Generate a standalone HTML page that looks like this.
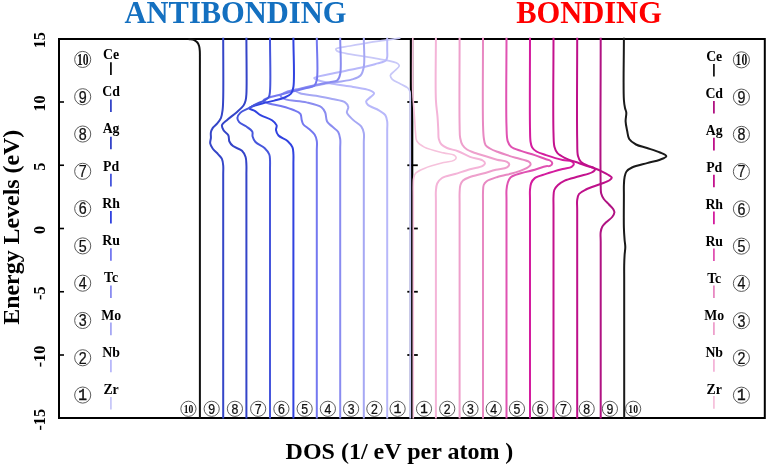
<!DOCTYPE html>
<html><head><meta charset="utf-8"><style>
html,body{margin:0;padding:0;background:#fff;}
body{width:767px;height:466px;overflow:hidden;}
svg{display:block;will-change:transform;}
text{font-family:"Liberation Serif",serif;}
.b{font-weight:bold;}
.cn{font-family:"Liberation Sans",sans-serif;fill:#111;stroke:#111;stroke-width:0.25px;}
.cm{font-family:"Liberation Mono",monospace;fill:#111;stroke:#111;stroke-width:0.5px;}
</style></head><body>
<svg width="767" height="466" viewBox="0 0 767 466">

<text x="235.5" y="22.5" font-size="30.5" text-anchor="middle" class="b" fill="#1470c0">ANTIBONDING</text>
<text x="589" y="22.5" font-size="30.5" text-anchor="middle" class="b" fill="#ff0000">BONDING</text>
<text transform="translate(18.8,227.2) rotate(-90)" x="0" y="0" font-size="23.9" text-anchor="middle" class="b" fill="#000">Energy Levels (eV)</text>
<text transform="translate(45,40.2) rotate(-90)" x="0" y="0" font-size="16.2" text-anchor="middle" class="b" fill="#000">15</text>
<text transform="translate(45,103.5) rotate(-90)" x="0" y="0" font-size="16.2" text-anchor="middle" class="b" fill="#000">10</text>
<text transform="translate(45,166.8) rotate(-90)" x="0" y="0" font-size="16.2" text-anchor="middle" class="b" fill="#000">5</text>
<text transform="translate(45,230.0) rotate(-90)" x="0" y="0" font-size="16.2" text-anchor="middle" class="b" fill="#000">0</text>
<text transform="translate(45,293.2) rotate(-90)" x="0" y="0" font-size="16.2" text-anchor="middle" class="b" fill="#000">-5</text>
<text transform="translate(45,356.5) rotate(-90)" x="0" y="0" font-size="16.2" text-anchor="middle" class="b" fill="#000">-10</text>
<text transform="translate(45,419.8) rotate(-90)" x="0" y="0" font-size="16.2" text-anchor="middle" class="b" fill="#000">-15</text>
<text x="399.5" y="458.8" font-size="24" text-anchor="middle" class="b" fill="#000">DOS (1/ eV per atom )</text>
<rect x="59" y="39" width="705.8" height="379" fill="none" stroke="#000" stroke-width="2"/>
<line x1="58" y1="102.00" x2="64" y2="102.00" stroke="#000" stroke-width="1.6"/>
<line x1="407.3" y1="102.00" x2="417.8" y2="102.00" stroke="#000" stroke-width="1.8"/>
<line x1="58" y1="165.25" x2="64" y2="165.25" stroke="#000" stroke-width="1.6"/>
<line x1="407.3" y1="165.25" x2="417.8" y2="165.25" stroke="#000" stroke-width="1.8"/>
<line x1="58" y1="228.50" x2="64" y2="228.50" stroke="#000" stroke-width="1.6"/>
<line x1="407.3" y1="228.50" x2="417.8" y2="228.50" stroke="#000" stroke-width="1.8"/>
<line x1="58" y1="291.75" x2="64" y2="291.75" stroke="#000" stroke-width="1.6"/>
<line x1="407.3" y1="291.75" x2="417.8" y2="291.75" stroke="#000" stroke-width="1.8"/>
<line x1="58" y1="355.00" x2="64" y2="355.00" stroke="#000" stroke-width="1.6"/>
<line x1="407.3" y1="355.00" x2="417.8" y2="355.00" stroke="#000" stroke-width="1.8"/>
<line x1="410.8" y1="38" x2="410.8" y2="419" stroke="#000" stroke-width="2"/>
<line x1="412.3" y1="38" x2="412.3" y2="419" stroke="#000" stroke-width="2"/>
<g fill="none" stroke-width="2" stroke-linejoin="round" stroke-linecap="butt">
<path d="M400.50,38.00 C395.00,38.80 389.40,39.62 384.00,40.40 C378.80,41.15 374.05,41.73 368.70,42.60 C362.77,43.56 355.78,44.88 350.00,46.00 C344.99,46.97 336.75,47.39 336.00,48.90 C335.70,49.51 336.28,50.40 337.00,51.00 C338.40,52.17 341.78,52.47 345.60,53.30 C352.99,54.90 369.02,56.83 378.50,58.80 C385.82,60.32 395.14,61.61 397.80,63.60 C398.79,64.35 399.30,65.10 399.20,66.00 C399.04,67.42 396.02,69.40 394.50,71.00 C393.09,72.49 390.64,73.81 390.40,75.30 C390.19,76.59 391.16,78.07 392.30,79.30 C393.96,81.09 397.84,82.51 400.50,84.00 C403.00,85.40 406.21,86.47 407.80,88.00 C408.91,89.07 409.49,90.21 409.90,91.50 C410.33,92.86 410.14,94.28 410.20,96.00 C410.28,98.28 410.20,99.40 410.20,104.00 C410.20,132.85 410.20,313.73 410.20,418.60" stroke="#c8c8f8" stroke-width="1.7"/>
<path d="M387.20,37.80 C387.20,41.87 387.20,46.49 387.20,50.00 C387.20,52.66 387.53,55.12 387.20,57.00 C386.97,58.33 386.77,59.44 386.00,60.30 C385.13,61.27 383.39,61.78 382.00,62.30 C380.62,62.82 379.34,62.97 377.70,63.40 C375.50,63.98 372.93,64.76 370.00,65.50 C366.16,66.47 361.83,67.46 356.60,68.60 C349.25,70.20 337.70,72.24 330.00,74.00 C324.03,75.36 314.38,76.61 314.20,78.00 C314.10,78.75 316.46,79.58 318.30,80.30 C321.50,81.56 327.07,82.68 332.20,83.70 C338.43,84.94 346.60,85.76 353.10,86.90 C358.83,87.91 365.48,88.58 369.20,90.10 C371.42,91.01 373.95,92.11 374.10,93.30 C374.24,94.37 372.10,95.59 370.90,96.80 C369.51,98.21 366.51,99.70 366.20,101.20 C365.96,102.38 366.71,103.66 367.80,104.80 C369.74,106.82 375.78,108.38 378.90,110.30 C381.41,111.84 383.92,113.12 385.30,115.10 C386.56,116.91 386.86,119.13 387.20,121.50 C387.61,124.33 387.20,125.64 387.20,131.00 C387.20,160.49 387.20,322.73 387.20,418.60" stroke="#b8b8fa"/>
<path d="M363.80,37.80 C363.80,47.53 365.06,60.26 363.80,67.00 C363.09,70.77 362.43,73.43 360.50,75.50 C358.57,77.57 355.90,78.26 352.20,79.40 C345.65,81.42 332.15,82.43 323.80,84.00 C317.16,85.25 311.14,86.57 306.00,87.80 C302.03,88.75 295.65,89.48 295.50,90.60 C295.40,91.38 297.95,92.47 300.00,93.20 C303.63,94.49 310.74,94.84 316.10,95.80 C321.48,96.77 327.15,97.83 332.20,99.00 C336.76,100.05 342.41,100.52 345.10,102.40 C346.84,103.62 348.00,105.32 348.30,107.00 C348.61,108.69 346.48,110.64 346.90,112.50 C347.45,114.92 350.77,117.62 353.10,119.90 C355.52,122.27 359.40,123.96 361.20,126.40 C362.68,128.41 363.33,130.52 363.80,133.00 C364.36,135.94 363.80,137.40 363.80,143.00 C363.80,172.40 363.80,326.73 363.80,418.60" stroke="#a6a8f4"/>
<path d="M340.20,37.80 C340.20,49.87 341.69,66.98 340.20,74.00 C339.55,77.06 339.04,78.93 337.40,80.30 C335.64,81.77 332.60,81.55 329.70,82.20 C325.96,83.04 321.38,83.82 316.80,84.80 C311.56,85.92 305.34,87.31 300.00,88.60 C295.11,89.78 289.50,90.65 286.00,92.20 C283.64,93.24 280.54,94.59 280.50,95.80 C280.46,96.92 282.77,98.27 285.00,99.20 C289.37,101.03 300.03,100.87 306.50,102.40 C312.01,103.70 318.37,105.00 321.50,107.30 C323.49,108.76 324.29,110.42 325.20,112.50 C326.30,115.00 325.78,119.07 327.10,121.50 C328.26,123.65 330.41,124.90 332.20,126.60 C334.10,128.40 336.87,129.86 338.20,132.00 C339.47,134.03 339.84,136.43 340.20,139.00 C340.62,142.01 340.20,143.41 340.20,149.00 C340.20,178.03 340.20,328.73 340.20,418.60" stroke="#8a8cf0"/>
<path d="M316.80,37.80 C316.80,51.87 318.41,72.48 316.80,80.00 C316.18,82.92 315.74,84.47 314.20,85.80 C312.48,87.29 309.40,87.23 306.50,88.00 C302.76,89.00 297.89,90.12 293.60,91.20 C289.32,92.28 285.02,93.39 280.80,94.50 C276.66,95.59 271.65,96.61 268.50,97.80 C266.41,98.59 263.57,99.40 263.50,100.30 C263.44,101.09 265.35,102.05 267.00,102.80 C270.00,104.15 276.32,104.78 280.80,106.00 C285.14,107.19 289.97,108.47 293.50,110.00 C296.22,111.18 299.06,112.07 300.40,113.90 C301.59,115.52 301.18,118.17 301.70,120.00 C302.14,121.55 302.26,122.86 303.20,124.20 C304.47,126.00 307.46,127.54 309.40,129.30 C311.25,130.98 313.36,132.51 314.60,134.50 C315.80,136.42 316.40,138.56 316.80,141.00 C317.28,143.94 316.80,145.41 316.80,151.00 C316.80,179.90 316.80,329.40 316.80,418.60" stroke="#7478f0"/>
<path d="M293.40,37.80 C293.40,54.20 294.83,78.32 293.40,87.00 C292.87,90.24 292.58,91.77 291.20,93.50 C289.73,95.33 287.12,96.38 284.60,97.50 C281.62,98.83 277.83,99.66 274.30,100.60 C270.64,101.57 266.73,102.21 263.00,103.20 C259.29,104.18 254.35,105.37 252.00,106.50 C250.77,107.09 249.35,107.69 249.40,108.30 C249.46,109.14 252.94,109.83 254.70,110.90 C256.64,112.08 258.15,113.83 260.50,115.20 C263.60,117.01 269.17,118.27 272.00,120.30 C274.08,121.79 276.02,123.50 276.60,125.30 C277.09,126.84 275.74,128.57 276.00,130.20 C276.29,131.97 277.06,133.91 278.50,135.50 C280.42,137.62 285.09,138.75 287.50,140.90 C289.63,142.80 291.53,145.09 292.50,147.40 C293.37,149.48 293.23,151.57 293.40,154.00 C293.60,156.98 293.40,158.44 293.40,164.00 C293.40,192.07 293.40,333.73 293.40,418.60" stroke="#3042e0"/>
<path d="M270.00,37.80 C270.00,55.53 270.88,82.11 270.00,91.00 C269.70,94.02 269.78,95.43 268.80,97.00 C267.88,98.48 266.25,99.25 264.50,100.30 C262.21,101.68 258.72,102.83 256.00,104.20 C253.40,105.51 251.04,106.92 248.50,108.30 C245.88,109.72 242.40,110.79 240.50,112.60 C238.95,114.08 237.53,116.11 237.40,117.80 C237.29,119.30 238.10,120.91 239.20,122.20 C240.63,123.86 243.83,124.75 246.00,126.30 C248.20,127.88 251.31,129.64 252.30,131.60 C253.06,133.12 252.14,134.87 252.60,136.50 C253.11,138.34 253.97,140.30 255.50,142.00 C257.52,144.24 262.12,145.73 264.50,148.00 C266.56,149.96 268.42,152.31 269.30,154.50 C270.03,156.32 269.87,157.89 270.00,160.00 C270.18,162.83 270.00,164.45 270.00,170.00 C270.00,197.69 270.00,335.73 270.00,418.60" stroke="#4656dc"/>
<path d="M246.40,37.80 C246.40,56.53 246.98,84.50 246.40,94.00 C246.20,97.24 246.13,98.51 245.60,100.50 C245.12,102.31 244.64,103.82 243.50,105.50 C241.96,107.77 239.05,110.13 236.50,112.40 C233.72,114.87 229.99,117.38 227.40,119.70 C225.31,121.58 222.49,123.13 222.00,125.10 C221.58,126.81 222.71,128.96 223.70,130.60 C224.75,132.35 227.35,133.37 228.30,135.20 C229.24,137.01 228.58,139.65 229.40,141.50 C230.18,143.26 231.33,144.73 233.00,146.10 C235.19,147.91 239.86,148.66 242.00,150.70 C243.82,152.43 244.86,154.69 245.60,157.00 C246.38,159.43 246.26,162.18 246.40,165.00 C246.56,168.14 246.40,169.46 246.40,175.00 C246.40,202.36 246.40,337.40 246.40,418.60" stroke="#3444c8"/>
<path d="M223.20,37.80 C223.20,57.87 223.51,85.61 223.20,98.00 C223.06,103.53 223.05,106.44 222.60,110.00 C222.23,112.89 221.96,115.51 221.00,117.80 C220.12,119.89 218.68,121.61 217.30,123.30 C215.94,124.97 213.89,126.27 212.80,127.90 C211.85,129.32 211.23,130.79 210.90,132.40 C210.55,134.11 211.02,136.07 210.90,137.90 C210.78,139.74 209.91,141.62 210.20,143.40 C210.50,145.25 211.60,147.09 212.80,148.80 C214.17,150.74 216.61,152.51 218.20,154.30 C219.59,155.87 221.07,157.11 221.90,158.90 C222.79,160.81 222.96,163.09 223.20,165.50 C223.48,168.37 223.20,169.71 223.20,175.00 C223.20,201.78 223.20,337.40 223.20,418.60" stroke="#3546c8"/>
<path d="M188.50,39.00 C190.40,39.37 192.64,39.41 194.20,40.10 C195.50,40.68 196.58,41.51 197.40,42.50 C198.21,43.48 198.70,44.69 199.10,46.00 C199.55,47.49 199.66,49.19 199.80,51.00 C199.96,53.13 199.88,55.35 199.90,58.00 C199.92,61.46 199.90,63.25 199.90,70.00 C199.90,106.37 199.90,302.40 199.90,418.60" stroke="#111111"/>
<path d="M412.80,37.80 C412.80,55.87 412.42,79.66 412.80,92.00 C413.00,98.41 413.38,101.84 413.70,106.60 C414.01,111.16 414.38,115.52 414.70,120.00 C415.02,124.52 415.16,129.76 415.60,133.60 C415.92,136.45 415.56,138.85 416.80,141.00 C418.21,143.44 421.00,145.35 424.30,147.10 C429.07,149.63 438.14,151.53 443.60,152.90 C447.54,153.89 451.80,153.76 453.90,155.00 C455.12,155.72 456.20,156.80 456.20,157.70 C456.20,158.60 455.12,159.67 453.90,160.40 C451.80,161.65 447.54,161.59 443.60,162.60 C438.14,164.00 429.38,166.26 424.30,168.40 C420.73,169.90 417.33,171.24 415.60,173.20 C414.36,174.61 414.09,176.21 413.70,178.00 C413.24,180.08 413.37,182.46 413.30,185.00 C413.21,188.04 413.30,189.50 413.30,195.00 C413.30,221.02 413.30,344.07 413.30,418.60" stroke="#f6c2dc" stroke-width="1.6"/>
<path d="M435.90,37.80 C435.90,58.53 435.22,85.91 435.90,100.00 C436.25,107.27 437.09,111.27 437.50,116.50 C437.87,121.22 438.07,125.95 438.30,130.00 C438.49,133.30 438.13,136.43 438.80,139.00 C439.36,141.12 440.17,143.01 441.50,144.50 C442.87,146.03 444.77,146.99 447.00,148.00 C449.96,149.34 454.31,149.80 458.00,151.20 C461.97,152.71 465.88,155.35 470.00,156.90 C474.11,158.45 480.28,158.95 482.70,160.50 C483.95,161.31 485.00,162.30 485.00,163.20 C485.00,164.10 483.96,165.11 482.70,165.90 C480.28,167.42 474.39,167.93 470.00,169.20 C465.19,170.59 459.83,172.49 455.00,174.00 C450.52,175.41 445.09,175.99 442.00,178.00 C439.73,179.47 438.22,181.36 437.20,183.50 C436.16,185.68 436.13,188.31 435.90,191.00 C435.63,194.08 435.90,195.51 435.90,201.00 C435.90,226.61 435.90,346.07 435.90,418.60" stroke="#f4b4d8"/>
<path d="M459.60,37.80 C459.60,66.87 459.23,108.81 459.60,125.00 C459.74,131.25 459.53,134.37 460.20,138.00 C460.70,140.73 461.29,143.04 462.50,145.00 C463.62,146.82 465.27,148.30 467.00,149.50 C468.76,150.72 470.63,151.29 473.00,152.20 C476.28,153.45 481.00,154.73 485.00,156.00 C489.00,157.27 493.16,158.79 497.00,159.80 C500.46,160.71 504.95,160.68 507.00,161.90 C508.21,162.62 509.30,163.70 509.30,164.60 C509.30,165.50 508.23,166.56 507.00,167.30 C504.81,168.63 499.81,168.83 496.00,169.80 C491.83,170.87 487.34,172.30 483.00,173.50 C478.67,174.70 473.61,175.63 470.00,177.00 C467.25,178.05 464.63,178.96 463.00,180.50 C461.67,181.75 460.98,183.21 460.40,185.00 C459.68,187.22 459.74,190.18 459.60,193.00 C459.44,196.14 459.60,197.51 459.60,203.00 C459.60,228.47 459.60,346.73 459.60,418.60" stroke="#eea0cc"/>
<path d="M483.00,37.80 C483.00,66.53 482.53,107.50 483.00,124.00 C483.19,130.66 483.23,134.16 483.80,138.00 C484.21,140.76 484.34,143.21 485.50,145.00 C486.53,146.59 488.24,147.44 490.00,148.50 C492.10,149.76 494.35,150.62 497.40,151.80 C502.09,153.61 510.05,156.11 515.60,157.80 C520.22,159.21 525.97,159.81 528.40,161.40 C529.67,162.23 530.70,163.27 530.70,164.20 C530.70,165.13 529.64,166.07 528.40,167.00 C525.96,168.82 520.31,170.82 515.60,172.40 C510.13,174.23 502.65,175.27 497.40,177.00 C493.22,178.38 488.71,179.74 486.40,181.50 C484.99,182.57 484.29,183.49 483.70,185.00 C482.90,187.04 483.12,190.18 483.00,193.00 C482.86,196.14 483.00,197.51 483.00,203.00 C483.00,228.47 483.00,346.73 483.00,418.60" stroke="#e888c2"/>
<path d="M506.50,37.80 C506.50,67.20 505.82,108.80 506.50,126.00 C506.78,133.13 506.50,137.39 507.70,141.10 C508.49,143.54 509.34,145.17 511.10,146.70 C513.35,148.65 517.31,149.59 520.90,150.90 C525.09,152.43 530.44,153.63 534.80,155.10 C538.76,156.44 543.19,158.35 546.00,159.30 C547.66,159.86 548.93,159.80 550.00,160.50 C550.99,161.15 552.30,162.30 552.30,163.20 C552.30,164.10 551.00,165.39 550.00,165.90 C548.93,166.44 547.65,165.89 546.00,166.20 C543.18,166.74 538.75,168.59 534.80,169.70 C530.43,170.93 525.15,171.81 520.90,173.20 C517.14,174.43 512.70,175.37 510.50,177.40 C508.86,178.92 508.36,180.98 507.70,183.00 C506.99,185.16 506.72,187.45 506.50,190.00 C506.24,193.03 506.50,194.51 506.50,200.00 C506.50,225.68 506.50,345.73 506.50,418.60" stroke="#e052b2"/>
<path d="M530.00,37.80 C530.00,67.87 529.64,111.01 530.00,128.00 C530.14,134.70 530.01,138.43 530.60,142.00 C530.98,144.28 531.23,145.92 532.20,147.50 C533.18,149.10 534.65,150.35 536.50,151.50 C538.94,153.01 542.36,153.88 546.00,155.10 C550.76,156.70 557.97,158.94 562.70,160.00 C566.10,160.76 569.71,160.34 571.60,161.40 C572.79,162.07 573.90,163.20 573.90,164.10 C573.90,165.00 572.78,166.07 571.60,166.80 C569.70,167.97 566.12,168.08 562.70,169.00 C557.99,170.27 550.99,172.24 546.00,173.90 C541.87,175.28 537.34,176.18 534.80,178.10 C532.99,179.47 532.00,181.11 531.20,183.00 C530.33,185.04 530.22,187.45 530.00,190.00 C529.74,193.03 530.00,194.51 530.00,200.00 C530.00,225.68 530.00,345.73 530.00,418.60" stroke="#d41c9e"/>
<path d="M553.50,37.80 C553.50,69.53 552.87,115.41 553.50,133.00 C553.74,139.75 553.52,143.34 554.50,147.00 C555.18,149.56 555.95,151.46 557.50,153.20 C559.22,155.14 561.79,156.35 564.70,157.80 C568.61,159.75 574.86,161.62 579.20,163.20 C582.72,164.48 586.27,165.90 588.80,166.60 C590.40,167.04 591.73,166.83 592.80,167.40 C593.73,167.90 595.02,168.83 595.00,169.60 C594.97,170.51 593.28,171.62 591.70,172.50 C588.97,174.02 583.52,175.00 579.20,176.30 C574.55,177.70 568.51,178.83 564.70,180.60 C561.93,181.89 559.79,183.31 558.00,185.00 C556.42,186.49 555.06,188.08 554.30,190.00 C553.49,192.04 553.64,194.45 553.50,197.00 C553.33,200.03 553.50,201.52 553.50,207.00 C553.50,232.19 553.50,348.07 553.50,418.60" stroke="#c4128e"/>
<path d="M577.20,37.80 C577.20,71.87 576.72,120.69 577.20,140.00 C577.39,147.65 576.96,152.03 578.00,156.00 C578.67,158.57 579.35,160.35 581.00,162.00 C583.02,164.02 586.85,165.08 590.00,166.50 C593.36,168.02 597.26,169.23 600.60,170.80 C603.74,172.28 607.56,174.19 609.50,175.60 C610.59,176.39 611.78,177.04 611.80,177.80 C611.82,178.57 610.63,179.42 609.50,180.20 C607.58,181.53 603.95,182.66 600.60,184.00 C596.35,185.71 589.90,187.54 586.00,189.50 C583.15,190.93 580.45,192.07 579.00,194.00 C577.74,195.68 577.53,197.72 577.20,200.00 C576.78,202.88 577.20,204.53 577.20,210.00 C577.20,234.98 577.20,349.07 577.20,418.60" stroke="#be108a"/>
<path d="M600.70,37.80 C600.70,87.20 600.10,167.86 600.70,186.00 C600.84,190.09 600.61,191.24 601.20,193.50 C601.73,195.53 602.61,197.26 603.80,199.00 C605.13,200.94 607.36,202.72 609.00,204.50 C610.51,206.14 612.40,207.77 613.30,209.30 C613.95,210.41 614.47,211.36 614.40,212.50 C614.31,213.89 613.30,215.57 612.20,217.00 C610.85,218.77 608.20,220.32 606.50,222.00 C604.97,223.52 603.37,224.89 602.40,226.60 C601.47,228.24 601.02,229.90 600.70,232.00 C600.27,234.80 600.70,236.61 600.70,242.00 C600.70,264.63 600.70,359.73 600.70,418.60" stroke="#b01282"/>
<path d="M623.90,37.80 C623.90,58.53 623.15,89.07 623.90,100.00 C624.17,103.94 624.53,105.70 625.00,108.00 C625.37,109.79 626.13,110.88 626.30,112.70 C626.53,115.14 625.47,118.44 625.60,121.40 C625.73,124.53 626.57,127.96 627.20,131.00 C627.78,133.80 627.78,136.77 629.20,139.00 C630.66,141.30 633.30,143.05 636.00,144.50 C639.10,146.17 643.19,146.73 647.00,148.00 C651.16,149.38 656.51,150.89 660.00,152.50 C662.55,153.67 666.31,155.00 666.30,156.20 C666.29,157.40 662.55,158.67 660.00,159.70 C656.53,161.09 651.56,161.86 647.10,163.10 C642.26,164.44 635.68,165.69 632.00,167.50 C629.58,168.69 627.74,169.83 626.50,171.50 C625.36,173.05 625.03,174.97 624.60,177.00 C624.09,179.39 624.02,182.18 623.90,185.00 C623.76,188.14 623.90,190.70 623.90,195.00 C623.90,202.81 623.66,219.73 623.90,228.00 C624.05,232.99 624.33,236.54 624.60,240.00 C624.81,242.65 625.29,244.59 625.30,247.00 C625.32,249.58 624.78,252.18 624.60,255.00 C624.40,258.15 624.27,261.33 624.20,265.00 C624.11,269.49 624.20,272.48 624.20,280.00 C624.20,302.87 624.20,372.40 624.20,418.60" stroke="#1a1a1a"/>
</g>
<circle cx="82.70" cy="59.45" r="8.05" fill="none" stroke="#4a4a4a" stroke-width="0.90"/><text x="82.70" y="64.56" font-size="16.50" text-anchor="middle" textLength="11.60" lengthAdjust="spacingAndGlyphs" class="b" fill="#111">10</text>
<circle cx="741.40" cy="59.85" r="8.05" fill="none" stroke="#4a4a4a" stroke-width="0.90"/><text x="741.40" y="64.97" font-size="16.50" text-anchor="middle" textLength="11.60" lengthAdjust="spacingAndGlyphs" class="b" fill="#111">10</text>
<text x="111.1" y="58.90" font-size="13.8" text-anchor="middle" class="b" fill="#000">Ce</text>
<text x="714.2" y="61.20" font-size="13.8" text-anchor="middle" class="b" fill="#000">Ce</text>
<line x1="110.9" y1="62.30" x2="110.9" y2="74.90" stroke="#111111" stroke-width="1.8"/>
<line x1="713.9" y1="64.00" x2="713.9" y2="76.60" stroke="#1a1a1a" stroke-width="1.8"/>
<circle cx="82.70" cy="96.74" r="8.05" fill="none" stroke="#4a4a4a" stroke-width="0.90"/><text transform="translate(82.70,102.58) scale(0.88,1)" x="0" y="0" font-size="16.22" text-anchor="middle" class="cn">9</text>
<circle cx="741.40" cy="97.11" r="8.05" fill="none" stroke="#4a4a4a" stroke-width="0.90"/><text transform="translate(741.40,102.95) scale(0.88,1)" x="0" y="0" font-size="16.22" text-anchor="middle" class="cn">9</text>
<text x="111.1" y="96.14" font-size="13.8" text-anchor="middle" class="b" fill="#000">Cd</text>
<text x="714.2" y="98.21" font-size="13.8" text-anchor="middle" class="b" fill="#000">Cd</text>
<line x1="110.9" y1="99.48" x2="110.9" y2="112.08" stroke="#3546c8" stroke-width="1.8"/>
<line x1="713.9" y1="100.90" x2="713.9" y2="113.50" stroke="#b01282" stroke-width="1.8"/>
<circle cx="82.70" cy="134.03" r="8.05" fill="none" stroke="#4a4a4a" stroke-width="0.90"/><text transform="translate(82.70,139.87) scale(0.88,1)" x="0" y="0" font-size="16.22" text-anchor="middle" class="cn">8</text>
<circle cx="741.40" cy="134.37" r="8.05" fill="none" stroke="#4a4a4a" stroke-width="0.90"/><text transform="translate(741.40,140.21) scale(0.88,1)" x="0" y="0" font-size="16.22" text-anchor="middle" class="cn">8</text>
<text x="111.1" y="133.38" font-size="13.8" text-anchor="middle" class="b" fill="#000">Ag</text>
<text x="714.2" y="135.22" font-size="13.8" text-anchor="middle" class="b" fill="#000">Ag</text>
<line x1="110.9" y1="136.66" x2="110.9" y2="149.26" stroke="#3444c8" stroke-width="1.8"/>
<line x1="713.9" y1="137.80" x2="713.9" y2="150.40" stroke="#be108a" stroke-width="1.8"/>
<circle cx="82.70" cy="171.32" r="8.05" fill="none" stroke="#4a4a4a" stroke-width="0.90"/><text transform="translate(82.70,177.16) scale(0.88,1)" x="0" y="0" font-size="16.22" text-anchor="middle" class="cn">7</text>
<circle cx="741.40" cy="171.63" r="8.05" fill="none" stroke="#4a4a4a" stroke-width="0.90"/><text transform="translate(741.40,177.47) scale(0.88,1)" x="0" y="0" font-size="16.22" text-anchor="middle" class="cn">7</text>
<text x="111.1" y="170.62" font-size="13.8" text-anchor="middle" class="b" fill="#000">Pd</text>
<text x="714.2" y="172.23" font-size="13.8" text-anchor="middle" class="b" fill="#000">Pd</text>
<line x1="110.9" y1="173.84" x2="110.9" y2="186.44" stroke="#4656dc" stroke-width="1.8"/>
<line x1="713.9" y1="174.70" x2="713.9" y2="187.30" stroke="#c4128e" stroke-width="1.8"/>
<circle cx="82.70" cy="208.61" r="8.05" fill="none" stroke="#4a4a4a" stroke-width="0.90"/><text transform="translate(82.70,214.45) scale(0.88,1)" x="0" y="0" font-size="16.22" text-anchor="middle" class="cn">6</text>
<circle cx="741.40" cy="208.89" r="8.05" fill="none" stroke="#4a4a4a" stroke-width="0.90"/><text transform="translate(741.40,214.73) scale(0.88,1)" x="0" y="0" font-size="16.22" text-anchor="middle" class="cn">6</text>
<text x="111.1" y="207.86" font-size="13.8" text-anchor="middle" class="b" fill="#000">Rh</text>
<text x="714.2" y="209.24" font-size="13.8" text-anchor="middle" class="b" fill="#000">Rh</text>
<line x1="110.9" y1="211.02" x2="110.9" y2="223.62" stroke="#3042e0" stroke-width="1.8"/>
<line x1="713.9" y1="211.60" x2="713.9" y2="224.20" stroke="#d41c9e" stroke-width="1.8"/>
<circle cx="82.70" cy="245.90" r="8.05" fill="none" stroke="#4a4a4a" stroke-width="0.90"/><text transform="translate(82.70,251.74) scale(0.88,1)" x="0" y="0" font-size="16.22" text-anchor="middle" class="cn">5</text>
<circle cx="741.40" cy="246.15" r="8.05" fill="none" stroke="#4a4a4a" stroke-width="0.90"/><text transform="translate(741.40,251.99) scale(0.88,1)" x="0" y="0" font-size="16.22" text-anchor="middle" class="cn">5</text>
<text x="111.1" y="245.10" font-size="13.8" text-anchor="middle" class="b" fill="#000">Ru</text>
<text x="714.2" y="246.25" font-size="13.8" text-anchor="middle" class="b" fill="#000">Ru</text>
<line x1="110.9" y1="248.20" x2="110.9" y2="260.80" stroke="#7478f0" stroke-width="1.8"/>
<line x1="713.9" y1="248.50" x2="713.9" y2="261.10" stroke="#e052b2" stroke-width="1.8"/>
<circle cx="82.70" cy="283.19" r="8.05" fill="none" stroke="#4a4a4a" stroke-width="0.90"/><text transform="translate(82.70,289.03) scale(0.88,1)" x="0" y="0" font-size="16.22" text-anchor="middle" class="cn">4</text>
<circle cx="741.40" cy="283.41" r="8.05" fill="none" stroke="#4a4a4a" stroke-width="0.90"/><text transform="translate(741.40,289.25) scale(0.88,1)" x="0" y="0" font-size="16.22" text-anchor="middle" class="cn">4</text>
<text x="111.1" y="282.34" font-size="13.8" text-anchor="middle" class="b" fill="#000">Tc</text>
<text x="714.2" y="283.26" font-size="13.8" text-anchor="middle" class="b" fill="#000">Tc</text>
<line x1="110.9" y1="285.38" x2="110.9" y2="297.98" stroke="#8a8cf0" stroke-width="1.8"/>
<line x1="713.9" y1="285.40" x2="713.9" y2="298.00" stroke="#e888c2" stroke-width="1.8"/>
<circle cx="82.70" cy="320.48" r="8.05" fill="none" stroke="#4a4a4a" stroke-width="0.90"/><text transform="translate(82.70,326.32) scale(0.88,1)" x="0" y="0" font-size="16.22" text-anchor="middle" class="cn">3</text>
<circle cx="741.40" cy="320.67" r="8.05" fill="none" stroke="#4a4a4a" stroke-width="0.90"/><text transform="translate(741.40,326.51) scale(0.88,1)" x="0" y="0" font-size="16.22" text-anchor="middle" class="cn">3</text>
<text x="111.1" y="319.58" font-size="13.8" text-anchor="middle" class="b" fill="#000">Mo</text>
<text x="714.2" y="320.27" font-size="13.8" text-anchor="middle" class="b" fill="#000">Mo</text>
<line x1="110.9" y1="322.56" x2="110.9" y2="335.16" stroke="#a6a8f4" stroke-width="1.8"/>
<line x1="713.9" y1="322.30" x2="713.9" y2="334.90" stroke="#eea0cc" stroke-width="1.8"/>
<circle cx="82.70" cy="357.77" r="8.05" fill="none" stroke="#4a4a4a" stroke-width="0.90"/><text transform="translate(82.70,363.61) scale(0.88,1)" x="0" y="0" font-size="16.22" text-anchor="middle" class="cn">2</text>
<circle cx="741.40" cy="357.93" r="8.05" fill="none" stroke="#4a4a4a" stroke-width="0.90"/><text transform="translate(741.40,363.77) scale(0.88,1)" x="0" y="0" font-size="16.22" text-anchor="middle" class="cn">2</text>
<text x="111.1" y="356.82" font-size="13.8" text-anchor="middle" class="b" fill="#000">Nb</text>
<text x="714.2" y="357.28" font-size="13.8" text-anchor="middle" class="b" fill="#000">Nb</text>
<line x1="110.9" y1="359.74" x2="110.9" y2="372.34" stroke="#b8b8fa" stroke-width="1.8"/>
<line x1="713.9" y1="359.20" x2="713.9" y2="371.80" stroke="#f4b4d8" stroke-width="1.8"/>
<circle cx="82.70" cy="395.06" r="8.05" fill="none" stroke="#4a4a4a" stroke-width="0.90"/><text transform="translate(82.70,400.19) scale(0.92,1)" x="0" y="0" font-size="15.76" text-anchor="middle" class="cm">1</text>
<circle cx="741.40" cy="395.19" r="8.05" fill="none" stroke="#4a4a4a" stroke-width="0.90"/><text transform="translate(741.40,400.32) scale(0.92,1)" x="0" y="0" font-size="15.76" text-anchor="middle" class="cm">1</text>
<text x="111.1" y="394.06" font-size="13.8" text-anchor="middle" class="b" fill="#000">Zr</text>
<text x="714.2" y="394.29" font-size="13.8" text-anchor="middle" class="b" fill="#000">Zr</text>
<line x1="110.9" y1="396.92" x2="110.9" y2="409.52" stroke="#c8c8f8" stroke-width="1.8"/>
<line x1="713.9" y1="396.10" x2="713.9" y2="408.70" stroke="#f6c2dc" stroke-width="1.8"/>
<circle cx="397.60" cy="408.80" r="7.60" fill="none" stroke="#4a4a4a" stroke-width="0.90"/><text transform="translate(397.60,413.22) scale(0.92,1)" x="0" y="0" font-size="13.60" text-anchor="middle" class="cm">1</text>
<circle cx="424.00" cy="408.80" r="7.60" fill="none" stroke="#4a4a4a" stroke-width="0.90"/><text transform="translate(424.00,413.22) scale(0.92,1)" x="0" y="0" font-size="13.60" text-anchor="middle" class="cm">1</text>
<circle cx="374.36" cy="408.80" r="7.60" fill="none" stroke="#4a4a4a" stroke-width="0.90"/><text transform="translate(374.36,413.84) scale(0.88,1)" x="0" y="0" font-size="13.99" text-anchor="middle" class="cn">2</text>
<circle cx="447.24" cy="408.80" r="7.60" fill="none" stroke="#4a4a4a" stroke-width="0.90"/><text transform="translate(447.24,413.84) scale(0.88,1)" x="0" y="0" font-size="13.99" text-anchor="middle" class="cn">2</text>
<circle cx="351.12" cy="408.80" r="7.60" fill="none" stroke="#4a4a4a" stroke-width="0.90"/><text transform="translate(351.12,413.84) scale(0.88,1)" x="0" y="0" font-size="13.99" text-anchor="middle" class="cn">3</text>
<circle cx="470.48" cy="408.80" r="7.60" fill="none" stroke="#4a4a4a" stroke-width="0.90"/><text transform="translate(470.48,413.84) scale(0.88,1)" x="0" y="0" font-size="13.99" text-anchor="middle" class="cn">3</text>
<circle cx="327.88" cy="408.80" r="7.60" fill="none" stroke="#4a4a4a" stroke-width="0.90"/><text transform="translate(327.88,413.84) scale(0.88,1)" x="0" y="0" font-size="13.99" text-anchor="middle" class="cn">4</text>
<circle cx="493.72" cy="408.80" r="7.60" fill="none" stroke="#4a4a4a" stroke-width="0.90"/><text transform="translate(493.72,413.84) scale(0.88,1)" x="0" y="0" font-size="13.99" text-anchor="middle" class="cn">4</text>
<circle cx="304.64" cy="408.80" r="7.60" fill="none" stroke="#4a4a4a" stroke-width="0.90"/><text transform="translate(304.64,413.84) scale(0.88,1)" x="0" y="0" font-size="13.99" text-anchor="middle" class="cn">5</text>
<circle cx="516.96" cy="408.80" r="7.60" fill="none" stroke="#4a4a4a" stroke-width="0.90"/><text transform="translate(516.96,413.84) scale(0.88,1)" x="0" y="0" font-size="13.99" text-anchor="middle" class="cn">5</text>
<circle cx="281.40" cy="408.80" r="7.60" fill="none" stroke="#4a4a4a" stroke-width="0.90"/><text transform="translate(281.40,413.84) scale(0.88,1)" x="0" y="0" font-size="13.99" text-anchor="middle" class="cn">6</text>
<circle cx="540.20" cy="408.80" r="7.60" fill="none" stroke="#4a4a4a" stroke-width="0.90"/><text transform="translate(540.20,413.84) scale(0.88,1)" x="0" y="0" font-size="13.99" text-anchor="middle" class="cn">6</text>
<circle cx="258.16" cy="408.80" r="7.60" fill="none" stroke="#4a4a4a" stroke-width="0.90"/><text transform="translate(258.16,413.84) scale(0.88,1)" x="0" y="0" font-size="13.99" text-anchor="middle" class="cn">7</text>
<circle cx="563.44" cy="408.80" r="7.60" fill="none" stroke="#4a4a4a" stroke-width="0.90"/><text transform="translate(563.44,413.84) scale(0.88,1)" x="0" y="0" font-size="13.99" text-anchor="middle" class="cn">7</text>
<circle cx="234.92" cy="408.80" r="7.60" fill="none" stroke="#4a4a4a" stroke-width="0.90"/><text transform="translate(234.92,413.84) scale(0.88,1)" x="0" y="0" font-size="13.99" text-anchor="middle" class="cn">8</text>
<circle cx="586.68" cy="408.80" r="7.60" fill="none" stroke="#4a4a4a" stroke-width="0.90"/><text transform="translate(586.68,413.84) scale(0.88,1)" x="0" y="0" font-size="13.99" text-anchor="middle" class="cn">8</text>
<circle cx="211.68" cy="408.80" r="7.60" fill="none" stroke="#4a4a4a" stroke-width="0.90"/><text transform="translate(211.68,413.84) scale(0.88,1)" x="0" y="0" font-size="13.99" text-anchor="middle" class="cn">9</text>
<circle cx="609.92" cy="408.80" r="7.60" fill="none" stroke="#4a4a4a" stroke-width="0.90"/><text transform="translate(609.92,413.84) scale(0.88,1)" x="0" y="0" font-size="13.99" text-anchor="middle" class="cn">9</text>
<circle cx="188.44" cy="408.80" r="7.60" fill="none" stroke="#4a4a4a" stroke-width="0.90"/><text x="188.44" y="412.99" font-size="13.50" text-anchor="middle" textLength="9.60" lengthAdjust="spacingAndGlyphs" class="b" fill="#111">10</text>
<circle cx="633.16" cy="408.80" r="7.60" fill="none" stroke="#4a4a4a" stroke-width="0.90"/><text x="633.16" y="412.99" font-size="13.50" text-anchor="middle" textLength="9.60" lengthAdjust="spacingAndGlyphs" class="b" fill="#111">10</text>
</svg></body></html>
